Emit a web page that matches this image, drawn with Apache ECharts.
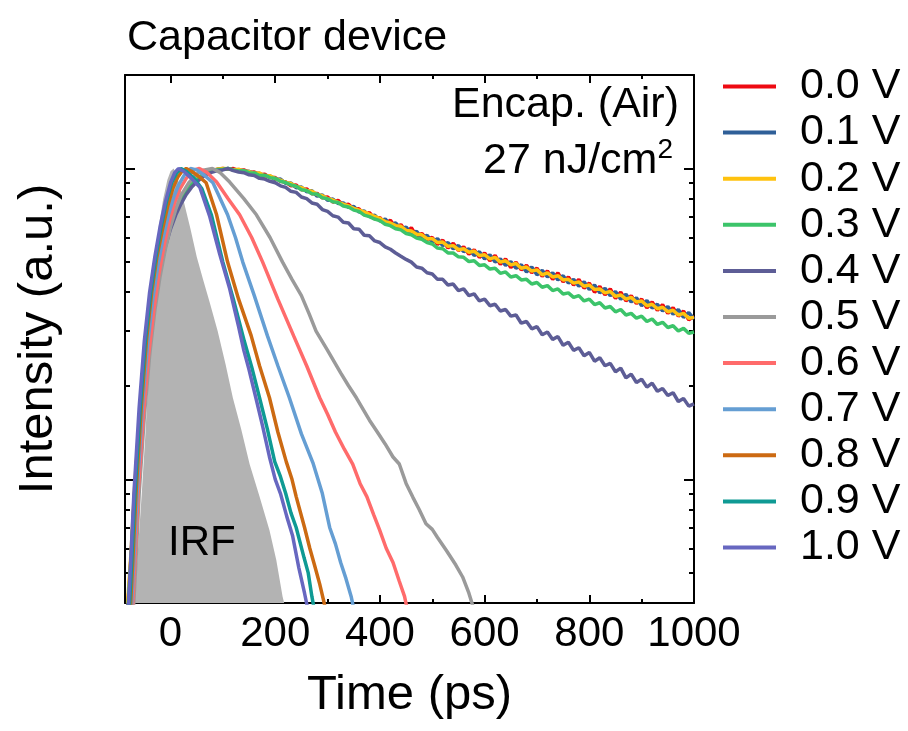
<!DOCTYPE html>
<html>
<head>
<meta charset="utf-8">
<script src="https://cdn.jsdelivr.net/npm/echarts@6/dist/echarts.min.js"></script>
<style>html,body{margin:0;padding:0;background:#fff}#c{width:908px;height:731px}</style>
</head>
<body>
<div id="c"></div>
<script>
// ---------- DATA ----------
const SERIES_NAMES = ['0.0 V','0.1 V','0.2 V','0.3 V','0.4 V','0.5 V','0.6 V','0.7 V','0.8 V','0.9 V','1.0 V'];
const X_TICK_LABELS = [0, 200, 400, 600, 800, 1000];
const X_MINOR_TICKS = [100, 300, 500, 700, 900];
const Y_MAJOR_TICKS = [0.1, 1];
const Y_MINOR_TICKS = [0.05, 0.06, 0.07, 0.08, 0.09, 0.2, 0.3, 0.4, 0.5, 0.6, 0.7, 0.8, 0.9];

// common time grid for the slow decays (ps)
const T_SLOW = [-82,-75,-68,-60,-50,-40,-30,-20,-10,0,10,20,30,40,50,60,70,80,90,
  100,110,120,130,140,150,160,170,180,190,
  200,210,220,230,240,250,260,270,280,290,
  300,310,320,330,340,350,360,370,380,390,
  400,410,420,430,440,450,460,470,480,490,
  500,510,520,530,540,550,560,570,580,590,
  600,610,620,630,640,650,660,670,680,690,
  700,710,720,730,740,750,760,770,780,790,
  800,810,820,830,840,850,860,870,880,890,
  900,910,920,930,940,950,960,970,980,990,1000];

const I_00 = [0.038,0.058,0.095,0.15,0.23,0.31,0.40,0.49,0.58,0.66,0.73,0.79,0.845,0.89,0.925,0.95,0.97,0.985,0.995,
  1.0,0.995,1.0,0.985,0.99,0.972,0.975,0.955,0.958,0.935,
  0.935,0.91,0.905,0.88,0.885,0.855,0.86,0.83,0.832,0.805,
  0.81,0.78,0.79,0.762,0.768,0.74,0.742,0.71,0.722,0.688,
  0.695,0.665,0.682,0.645,0.66,0.625,0.645,0.605,0.618,0.592,
  0.60,0.57,0.588,0.555,0.575,0.545,0.56,0.53,0.548,0.518,
  0.535,0.505,0.525,0.492,0.512,0.48,0.50,0.472,0.488,0.462,
  0.478,0.45,0.468,0.44,0.462,0.432,0.448,0.422,0.44,0.412,
  0.428,0.40,0.418,0.392,0.41,0.382,0.40,0.375,0.39,0.368,
  0.38,0.356,0.372,0.35,0.365,0.342,0.357,0.335,0.348,0.326,0.335];
const I_01 = [0.036,0.056,0.092,0.145,0.225,0.305,0.395,0.485,0.575,0.655,0.725,0.785,0.84,0.885,0.92,0.948,0.968,0.983,0.992,
  0.995,1.0,0.99,0.992,0.978,0.98,0.962,0.965,0.942,0.948,
  0.92,0.925,0.895,0.898,0.868,0.872,0.842,0.848,0.815,0.822,
  0.79,0.798,0.772,0.775,0.75,0.755,0.725,0.73,0.70,0.708,
  0.678,0.688,0.66,0.668,0.64,0.648,0.615,0.628,0.598,0.61,
  0.58,0.595,0.565,0.578,0.552,0.565,0.54,0.552,0.525,0.54,
  0.512,0.528,0.50,0.512,0.488,0.502,0.478,0.49,0.465,0.482,
  0.455,0.47,0.448,0.462,0.438,0.452,0.428,0.44,0.418,0.432,
  0.408,0.422,0.398,0.412,0.39,0.402,0.38,0.394,0.372,0.384,
  0.362,0.376,0.356,0.366,0.348,0.36,0.34,0.352,0.332,0.344,0.328];
const I_02 = [0.04,0.06,0.098,0.152,0.232,0.312,0.402,0.492,0.582,0.662,0.732,0.795,0.848,0.892,0.928,0.952,0.972,0.988,0.996,
  1.0,0.998,0.99,0.995,0.98,0.978,0.965,0.968,0.945,0.948,
  0.928,0.918,0.902,0.895,0.876,0.868,0.85,0.845,0.825,0.818,
  0.80,0.792,0.778,0.768,0.758,0.745,0.735,0.725,0.712,0.702,
  0.69,0.675,0.668,0.655,0.652,0.632,0.63,0.615,0.612,0.595,
  0.595,0.578,0.58,0.562,0.565,0.548,0.552,0.538,0.542,0.525,
  0.528,0.512,0.518,0.50,0.505,0.49,0.495,0.478,0.482,0.468,
  0.472,0.455,0.462,0.448,0.452,0.438,0.44,0.428,0.432,0.418,
  0.422,0.408,0.41,0.398,0.402,0.388,0.392,0.38,0.385,0.372,
  0.375,0.362,0.366,0.354,0.358,0.346,0.35,0.338,0.342,0.33,0.332];
const I_03 = [0.037,0.057,0.094,0.148,0.228,0.308,0.398,0.488,0.578,0.658,0.728,0.788,0.842,0.888,0.922,0.95,0.968,0.985,0.993,
  0.995,1.0,0.99,0.982,0.985,0.97,0.968,0.95,0.952,0.935,
  0.93,0.91,0.902,0.885,0.878,0.855,0.85,0.83,0.828,0.805,
  0.80,0.782,0.778,0.758,0.752,0.735,0.728,0.708,0.70,0.688,
  0.68,0.662,0.655,0.64,0.635,0.618,0.612,0.598,0.592,0.578,
  0.572,0.555,0.552,0.535,0.535,0.52,0.518,0.502,0.505,0.488,
  0.49,0.475,0.478,0.46,0.465,0.448,0.452,0.438,0.44,0.425,
  0.43,0.415,0.42,0.405,0.41,0.395,0.398,0.385,0.39,0.375,
  0.38,0.365,0.37,0.356,0.36,0.346,0.352,0.338,0.342,0.33,
  0.335,0.322,0.328,0.315,0.32,0.308,0.312,0.30,0.306,0.295,0.298];
const I_04 = [0.035,0.055,0.09,0.14,0.215,0.295,0.385,0.47,0.56,0.64,0.71,0.77,0.825,0.87,0.905,0.935,0.958,0.975,0.985,
  0.99,1.0,0.985,0.975,0.97,0.955,0.95,0.93,0.925,0.91,
  0.90,0.88,0.87,0.845,0.838,0.81,0.80,0.775,0.768,0.738,
  0.728,0.705,0.698,0.672,0.668,0.64,0.638,0.61,0.608,0.585,
  0.578,0.56,0.55,0.535,0.522,0.51,0.50,0.482,0.478,0.462,
  0.458,0.44,0.44,0.422,0.425,0.405,0.41,0.39,0.395,0.375,
  0.38,0.362,0.366,0.348,0.352,0.335,0.338,0.318,0.322,0.305,
  0.31,0.292,0.298,0.282,0.288,0.27,0.276,0.26,0.265,0.25,
  0.256,0.24,0.246,0.232,0.236,0.222,0.228,0.212,0.218,0.205,
  0.21,0.198,0.204,0.192,0.196,0.186,0.19,0.178,0.182,0.172,0.175];

const T_05 = [-72,-66,-60,-50,-40,-30,-20,-10,0,10,20,35,50,65,80,95,113,140,164,190,214,232,250,265,278,300,325,340,355,380,395,410,425,437,450,463,475,488,500,510,527,545,558,570,582];
const I_05 = [0.035,0.055,0.09,0.16,0.25,0.35,0.45,0.55,0.65,0.74,0.82,0.90,0.96,0.99,1.0,0.97,0.905,0.80,0.71,0.60,0.50,0.44,0.39,0.34,0.30,0.26,0.22,0.2,0.183,0.155,0.142,0.13,0.118,0.112,0.097,0.0875,0.08,0.072,0.069,0.065,0.059,0.053,0.0485,0.043,0.037];
const T_06 = [-74,-68,-62,-52,-42,-32,-22,-12,-2,8,18,30,45,55,70,88,110,132,155,176,205,235,260,285,300,315,332,348,362,375,388,399,412,425,437,447,454];
const I_06 = [0.035,0.055,0.09,0.16,0.25,0.35,0.46,0.57,0.68,0.78,0.86,0.93,0.99,1.0,0.97,0.905,0.80,0.71,0.60,0.50,0.38,0.29,0.232,0.183,0.162,0.142,0.125,0.112,0.097,0.088,0.077,0.069,0.06,0.054,0.047,0.042,0.037];
const T_07 = [-76,-70,-64,-54,-44,-34,-24,-14,-4,6,16,26,38,50,65,81,95,109,124,138,160,185,205,227,250,272,290,304,315,325,335,345,352];
const I_07 = [0.035,0.055,0.09,0.17,0.27,0.38,0.49,0.60,0.71,0.81,0.89,0.95,1.0,0.99,0.95,0.90,0.80,0.71,0.60,0.50,0.39,0.29,0.232,0.183,0.14,0.113,0.09,0.07,0.062,0.054,0.048,0.042,0.037];
const T_08 = [-78,-72,-66,-56,-46,-36,-26,-16,-6,4,14,22,30,40,55,68,88,109,130,154,170,189,205,221,232,240,256,266,275,285,292,298];
const I_08 = [0.035,0.055,0.09,0.17,0.28,0.40,0.52,0.63,0.75,0.86,0.94,0.98,1.0,0.98,0.94,0.90,0.71,0.50,0.38,0.29,0.232,0.183,0.142,0.114,0.1,0.088,0.07,0.06,0.053,0.046,0.041,0.037];
const T_09 = [-80,-74,-68,-58,-48,-38,-28,-18,-8,2,12,20,30,45,60,78,100,120,141,155,170,185,199,210,220,230,240,255,263,270,276];
const I_09 = [0.035,0.055,0.09,0.17,0.28,0.40,0.52,0.65,0.78,0.90,0.97,1.0,0.98,0.93,0.86,0.71,0.50,0.38,0.278,0.23,0.183,0.145,0.114,0.102,0.09,0.078,0.07,0.056,0.05,0.042,0.037];
const T_10 = [-82,-76,-70,-60,-50,-40,-30,-20,-10,0,8,15,25,40,56,75,94,113,130,140,150,164,176,189,200,210,222,233,245,256,264];
const I_10 = [0.035,0.055,0.09,0.17,0.28,0.40,0.52,0.65,0.78,0.90,0.97,1.0,0.98,0.93,0.87,0.70,0.53,0.41,0.31,0.26,0.225,0.18,0.148,0.118,0.10,0.09,0.076,0.066,0.052,0.043,0.037];

const T_IRF = [-90,-70,-62,-55,-48,-42,-36,-30,-22,-14,-6,0,6,12,24,38,50,62,75,90,105,119,135,151,170,189,202,214,222];
const I_IRF = [0.035,0.038,0.06,0.09,0.14,0.22,0.36,0.50,0.66,0.80,0.92,0.98,1.0,0.95,0.80,0.64,0.52,0.44,0.37,0.30,0.235,0.183,0.145,0.112,0.088,0.0686,0.055,0.042,0.037];

const COLORS = ['#ee0a12','#2f5f98','#ffc20e','#3cc46a','#5d5d96','#9a9a9a','#ff6b6b','#659ed3','#cc6a12','#0f9a94','#6767c0'];
// ---------- BUILD ----------
function pairs(t, v){ const n=Math.min(t.length,v.length); const o=[]; for(let k=0;k<n;k++) o.push([t[k],v[k]]); return o; }
const curveT = [T_SLOW,T_SLOW,T_SLOW,T_SLOW,T_SLOW,T_05,T_06,T_07,T_08,T_09,T_10];
const curveI = [I_00,I_01,I_02,I_03,I_04,I_05,I_06,I_07,I_08,I_09,I_10];

const FONT = '"Liberation Sans", Arial, sans-serif';
const X_MIN = -87, X_MAX = 1000, Y_MIN = 0.04, Y_MAX = 2;

function xAx(pos, ticks, len, labels, withLine, name){
  return {
    type:'value', position:pos, min:X_MIN, max:X_MAX, gridIndex:0,
    axisLine:{show:withLine, onZero:false, lineStyle:{color:'#000', width:2}},
    axisTick:{show:true, inside:true, length:len, customValues:ticks, lineStyle:{color:'#000', width:2}},
    axisLabel:{show:labels, customValues:ticks, color:'#000', fontSize:42, fontFamily:FONT, margin:10,
      formatter:function(v){ return String(v); }},
    splitLine:{show:false},
    name: name||'', nameLocation:'middle', nameGap:68,
    nameTextStyle:{color:'#000', fontSize:49, fontFamily:FONT}
  };
}
function yAx(pos, ticks, len, withLine, name){
  return {
    type:'log', logBase:10, position:pos, min:Y_MIN, max:Y_MAX, gridIndex:0,
    axisLine:{show:withLine, onZero:false, lineStyle:{color:'#000', width:2}},
    axisTick:{show:true, inside:true, length:len, customValues:ticks, lineStyle:{color:'#000', width:2}},
    axisLabel:{show:false},
    splitLine:{show:false}, minorTick:{show:false},
    name: name||'', nameLocation:'middle', nameGap:62,
    nameTextStyle:{color:'#000', fontSize:49, fontFamily:FONT}
  };
}

const series = [{
  name:'IRF', type:'line', xAxisIndex:0, yAxisIndex:0, data:pairs(T_IRF,I_IRF),
  symbol:'none', lineStyle:{width:0, color:'#b3b3b3'}, itemStyle:{color:'#b3b3b3'},
  areaStyle:{color:'#b3b3b3', opacity:1, origin:'start'}, z:1, silent:true
}];
SERIES_NAMES.forEach((nm,k)=>{
  series.push({
    name:nm, type:'line', xAxisIndex:0, yAxisIndex:0, data:pairs(curveT[k],curveI[k]),
    symbol:'none', lineStyle:{width:3.5, color:COLORS[k]}, itemStyle:{color:COLORS[k]}, z:2+k
  });
});

const chart = echarts.init(document.getElementById('c'), null, {renderer:'canvas'});
chart.setOption({
  animation:false,
  backgroundColor:'#fff',
  textStyle:{fontFamily:FONT},
  grid:{left:125, right:214, top:75, bottom:128, containLabel:false},
  title:{text:'Capacitor device', left:122, top:12, textStyle:{fontSize:43, fontWeight:'normal', color:'#000', fontFamily:FONT}},
  xAxis:[
    xAx('bottom', X_TICK_LABELS, 8, true, true, 'Time (ps)'),
    xAx('bottom', X_MINOR_TICKS, 4, false, false),
    xAx('top', X_TICK_LABELS, 8, false, true),
    xAx('top', X_MINOR_TICKS, 4, false, false)
  ],
  yAxis:[
    yAx('left', Y_MAJOR_TICKS, 10, true, 'Intensity (a.u.)'),
    yAx('left', Y_MINOR_TICKS, 5, false),
    yAx('right', Y_MAJOR_TICKS, 10, true),
    yAx('right', Y_MINOR_TICKS, 5, false)
  ],
  legend:{
    data:SERIES_NAMES, orient:'vertical', left:718, top:60,
    icon:'rect', itemWidth:53, itemHeight:4, itemGap:3.1,
    textStyle:{fontSize:43, lineHeight:42, color:'#000', fontFamily:FONT, padding:[0,0,0,19]}
  },
  graphic:[
    {type:'text', x:679, y:105, style:{text:'Encap. (Air)', fontSize:43, fontFamily:FONT, fill:'#000', align:'right', verticalAlign:'middle'}},
    {type:'text', x:673, y:161, style:{text:'{a|27 nJ/cm}{s|2}', align:'right', verticalAlign:'middle',
      rich:{a:{fontSize:43, fontFamily:FONT, fill:'#000', color:'#000'}, s:{fontSize:28, fontFamily:FONT, color:'#000', fill:'#000', verticalAlign:'top', padding:[0,0,22,0]}}}},
    {type:'text', x:168, y:543, style:{text:'IRF', fontSize:42, fontFamily:FONT, fill:'#000', align:'left', verticalAlign:'middle'}, z:100}
  ],
  series:series
});
</script>
</body>
</html>
